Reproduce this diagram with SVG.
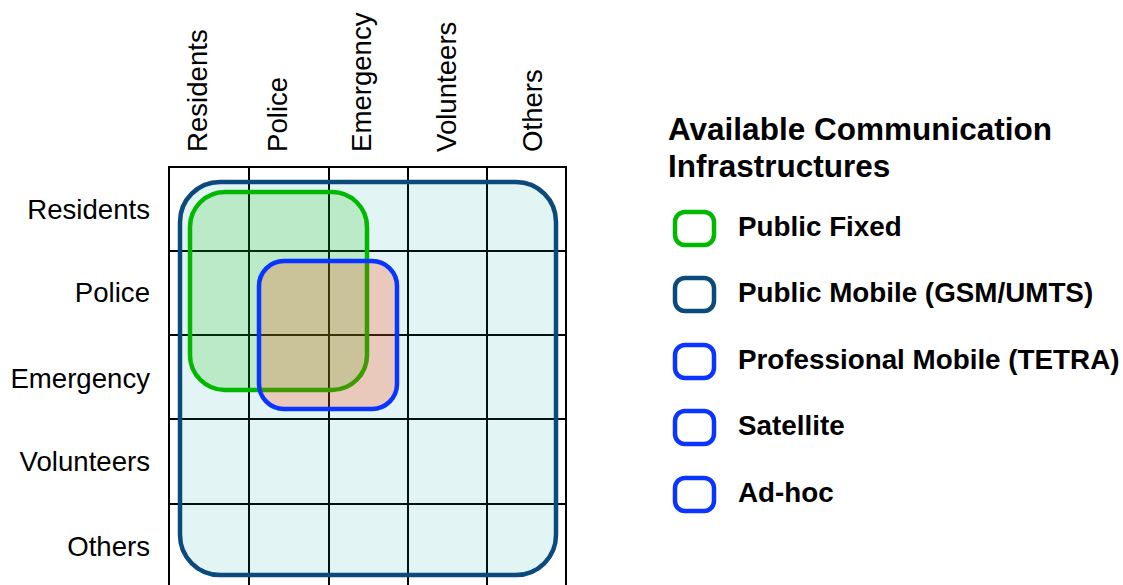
<svg xmlns="http://www.w3.org/2000/svg" width="1123" height="585" viewBox="0 0 1123 585">
<style>
.lbl{font-family:"Liberation Sans",Arial,sans-serif;font-size:27.6px;fill:#000}
.row{text-anchor:end}
.ttl{font-family:"Liberation Sans",Arial,sans-serif;font-size:31.5px;font-weight:bold;fill:#000}
.leg{font-family:"Liberation Sans",Arial,sans-serif;font-size:27.8px;font-weight:bold;fill:#000}
.grid line{stroke:#000;stroke-width:2}
.ico{fill:#fff;stroke-width:4.5}
</style>
<rect width="1123" height="585" fill="#fff"/>
<g id="grid" class="grid">
<line x1="169" y1="167" x2="169" y2="585"/>
<line x1="249" y1="167" x2="249" y2="585"/>
<line x1="329" y1="167" x2="329" y2="585"/>
<line x1="408" y1="167" x2="408" y2="585"/>
<line x1="487" y1="167" x2="487" y2="585"/>
<line x1="566" y1="167" x2="566" y2="585"/>
<line x1="168" y1="167" x2="567" y2="167"/>
<line x1="168" y1="251" x2="567" y2="251"/>
<line x1="168" y1="335" x2="567" y2="335"/>
<line x1="168" y1="419" x2="567" y2="419"/>
<line x1="168" y1="504" x2="567" y2="504"/>
</g>
<g id="area-public-mobile">
<rect x="180" y="182" width="376" height="393" rx="40" fill="#009999" fill-opacity="0.11" stroke="#0b4a7d" stroke-width="4.5"/>
</g>
<g id="area-public-fixed">
<rect x="190" y="192" width="177" height="198" rx="35" fill="#00bf00" fill-opacity="0.18" stroke="#00b800" stroke-width="4.5"/>
</g>
<g id="area-professional">
<rect x="259" y="261" width="138" height="148" rx="25" fill="#ff3c00" fill-opacity="0.23" stroke="#0a34ff" stroke-width="4.5"/>
</g>
<g id="row-labels" class="lbl row">
<text x="150" y="219">Residents</text>
<text x="150" y="302">Police</text>
<text x="150" y="388">Emergency</text>
<text x="150" y="471">Volunteers</text>
<text x="150" y="556">Others</text>
</g>
<g id="col-labels" class="lbl">
<text transform="translate(207,152) rotate(-90)">Residents</text>
<text transform="translate(287,152) rotate(-90)">Police</text>
<text transform="translate(371,152) rotate(-90)">Emergency</text>
<text transform="translate(456,152) rotate(-90)">Volunteers</text>
<text transform="translate(542,152) rotate(-90)">Others</text>
</g>
<g id="legend-title" class="ttl">
<text x="668" y="140">Available Communication</text>
<text x="668" y="177">Infrastructures</text>
</g>
<g id="legend-public-fixed">
<rect class="ico" x="675" y="212" width="39" height="33" rx="10" stroke="#00b800"/>
<text class="leg" x="738" y="236">Public Fixed</text>
</g>
<g id="legend-public-mobile">
<rect class="ico" x="675" y="278" width="39" height="33" rx="10" stroke="#0b4a7d"/>
<text class="leg" x="738" y="302">Public Mobile (GSM/UMTS)</text>
</g>
<g id="legend-professional">
<rect class="ico" x="675" y="345" width="39" height="33" rx="10" stroke="#0a34ff"/>
<text class="leg" x="738" y="369">Professional Mobile (TETRA)</text>
</g>
<g id="legend-satellite">
<rect class="ico" x="675" y="411" width="39" height="33" rx="10" stroke="#0a34ff"/>
<text class="leg" x="738" y="435">Satellite</text>
</g>
<g id="legend-adhoc">
<rect class="ico" x="675" y="478" width="39" height="33" rx="10" stroke="#0a34ff"/>
<text class="leg" x="738" y="502">Ad-hoc</text>
</g>
<g id="connectors"/>
</svg>
